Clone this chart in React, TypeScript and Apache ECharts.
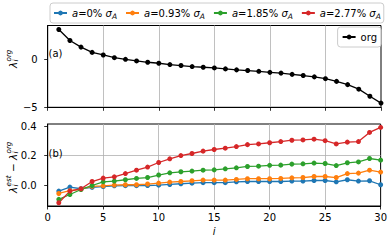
import React, { useEffect, useRef } from "react";
import * as echarts from "echarts";

const FONT = "DejaVu Sans";

// eigenvalue index i
const indices = [1, 2, 3, 4, 5, 6, 7, 8, 9, 10, 11, 12, 13, 14, 15, 16, 17, 18, 19, 20, 21, 22, 23, 24, 25, 26, 27, 28, 29, 30];

// (a) original eigenvalues
const orgValues = [3.1, 1.96, 1.27, 0.72, 0.45, 0.17, 0.0, -0.17, -0.31, -0.41, -0.55, -0.65, -0.76, -0.83, -0.9, -1.0, -1.1, -1.17, -1.25, -1.36, -1.44, -1.57, -1.69, -1.83, -2.02, -2.3, -2.64, -3.11, -3.85, -4.56];

// (b) deviations lambda_est - lambda_org
const dev0 = [-0.041, -0.014, -0.025, -0.016, -0.011, -0.005, -0.004, -0.004, -0.003, -0.001, 0.004, 0.009, 0.013, 0.016, 0.016, 0.016, 0.022, 0.024, 0.024, 0.024, 0.024, 0.027, 0.027, 0.031, 0.031, 0.022, 0.036, 0.027, 0.029, 0.002];
const dev093 = [-0.057, -0.038, -0.028, -0.009, -0.005, 0.0, 0.002, 0.002, 0.007, 0.013, 0.02, 0.024, 0.029, 0.034, 0.034, 0.034, 0.038, 0.043, 0.043, 0.043, 0.045, 0.049, 0.051, 0.058, 0.058, 0.051, 0.078, 0.081, 0.101, 0.088];
const dev185 = [-0.097, -0.064, -0.03, -0.003, 0.022, 0.027, 0.036, 0.045, 0.051, 0.068, 0.083, 0.09, 0.095, 0.101, 0.103, 0.11, 0.117, 0.126, 0.128, 0.134, 0.135, 0.142, 0.144, 0.149, 0.146, 0.132, 0.151, 0.157, 0.18, 0.169];
const dev277 = [-0.12, -0.041, -0.025, 0.024, 0.047, 0.056, 0.078, 0.101, 0.122, 0.153, 0.178, 0.2, 0.214, 0.23, 0.241, 0.25, 0.261, 0.274, 0.279, 0.287, 0.295, 0.304, 0.306, 0.311, 0.301, 0.279, 0.291, 0.295, 0.357, 0.391];

const devPercents = ["0%", "0.93%", "1.85%", "2.77%"];
const devSeries = [dev0, dev093, dev185, dev277];
const devColors = ["#1f77b4", "#ff7f0e", "#2ca02c", "#d62728"];
const devNames = devPercents.map((p) => `a=${p} σA`);

const xTicks = [0, 5, 10, 15, 20, 25, 30];
const topYTicks = [-5, 0];
const bottomYTicks = [0, 0.2, 0.4];

const GRID_COLOR = "#b0b0b0";

function mathText(x: number, y: number, parts: { t: string; dx: number; dy: number; s: number }[]) {
  return {
    type: "group",
    x,
    y,
    rotation: Math.PI / 2,
    z: 100,
    children: parts.map((p) => ({
      type: "text",
      x: p.dx,
      y: p.dy,
      style: {
        text: p.t,
        fontSize: p.s,
        fontFamily: FONT,
        fontStyle: p.t === "−" ? "normal" : "italic",
        fill: "#000",
        align: "left",
        textAlign: "left",
        verticalAlign: "middle",
        textVerticalAlign: "middle",
      },
    })),
  };
}

export default function App() {
  const ref = useRef<HTMLDivElement>(null);
  useEffect(() => {
    const chart = echarts.init(ref.current!, null, { renderer: "svg" });
    const tickStyle = { show: true, inside: false, length: 3.5, lineStyle: { color: "#000", width: 0.8 } };
    const labelStyle = { color: "#000", fontFamily: FONT, fontSize: 10 };
    const splitStyle = { show: true, showMinLine: false, showMaxLine: false, lineStyle: { color: GRID_COLOR, width: 0.8 } };
    const fmtMinus = (v: number) => (v < 0 ? "−" + Math.abs(v) : String(v));

    const option: any = {
      animation: false,
      backgroundColor: "#fff",
      textStyle: { fontFamily: FONT },
      grid: [
        { left: 47.7, top: 25.5, width: 333.3, height: 81.8, show: true, borderColor: "#000", borderWidth: 1, backgroundColor: "transparent" },
        { left: 47.7, top: 124, width: 333.3, height: 82, show: true, borderColor: "#000", borderWidth: 1, backgroundColor: "transparent" },
      ],
      xAxis: [
        {
          type: "value", gridIndex: 0, min: 0, max: 30, interval: 5,
          axisLine: { show: true, onZero: false, lineStyle: { color: "#000", width: 1 } },
          axisTick: { ...tickStyle, customValues: xTicks },
          axisLabel: { show: false },
          splitLine: splitStyle,
        },
        {
          type: "value", gridIndex: 1, min: 0, max: 30, interval: 5,
          axisLine: { show: true, onZero: false, lineStyle: { color: "#000", width: 1 } },
          axisTick: { ...tickStyle, customValues: xTicks },
          axisLabel: { ...labelStyle, margin: 6, customValues: xTicks },
          splitLine: splitStyle,
          name: "i",
          nameLocation: "middle",
          nameGap: 20,
          nameTextStyle: { fontFamily: FONT, fontSize: 10, fontStyle: "italic", color: "#000" },
        },
      ],
      yAxis: [
        {
          type: "value", gridIndex: 0, min: -5, max: 3.52,
          axisLine: { show: true, onZero: false, lineStyle: { color: "#000", width: 1 } },
          axisTick: { ...tickStyle, customValues: topYTicks },
          axisLabel: { ...labelStyle, margin: 10, customValues: topYTicks, formatter: fmtMinus },
          splitLine: splitStyle,
        },
        {
          type: "value", gridIndex: 1, min: -0.142, max: 0.414,
          axisLine: { show: true, onZero: false, lineStyle: { color: "#000", width: 1 } },
          axisTick: { ...tickStyle, customValues: bottomYTicks },
          axisLabel: { ...labelStyle, margin: 11, customValues: bottomYTicks, formatter: (v: number) => v.toFixed(1) },
          splitLine: splitStyle,
        },
      ],
      legend: [
        {
          data: devNames,
          left: 50,
          top: 3,
          width: 380,
          itemWidth: 13,
          itemHeight: 6,
          itemGap: 8,
          padding: [3, 3, 3, 3],
          borderColor: "#cccccc",
          borderWidth: 1,
          borderRadius: 3,
          backgroundColor: "rgba(255,255,255,0.8)",
          formatter: (name: string) => {
            const k = devNames.indexOf(name);
            return `{it|a}=${devPercents[k]} {it|σ}{sub|A}`;
          },
          textStyle: {
            fontFamily: FONT, fontSize: 10, color: "#000", lineHeight: 14,
            rich: {
              it: { fontFamily: FONT, fontSize: 10, fontStyle: "italic", color: "#000", lineHeight: 14 },
              sub: { fontFamily: FONT, fontSize: 7.5, fontStyle: "italic", color: "#000", lineHeight: 8, verticalAlign: "bottom" },
            },
          },
        },
        {
          data: ["org"],
          right: 9,
          top: 27,
          itemWidth: 13,
          itemHeight: 6,
          padding: [3, 4, 3, 4],
          borderColor: "#cccccc",
          borderWidth: 1,
          borderRadius: 3,
          backgroundColor: "rgba(255,255,255,0.8)",
          textStyle: { fontFamily: FONT, fontSize: 10, color: "#000", lineHeight: 14 },
        },
      ],
      series: [
        {
          name: "org",
          type: "line",
          xAxisIndex: 0,
          yAxisIndex: 0,
          data: indices.map((x, k) => [x, orgValues[k]]),
          symbol: "circle",
          symbolSize: 5,
          showSymbol: true,
          lineStyle: { color: "#000", width: 1.3 },
          itemStyle: { color: "#000" },
          clip: false,
        },
        ...devSeries.map((vals, s) => ({
          name: devNames[s],
          type: "line",
          xAxisIndex: 1,
          yAxisIndex: 1,
          data: indices.map((x, k) => [x, vals[k]]),
          symbol: "circle",
          symbolSize: 5,
          showSymbol: true,
          lineStyle: { color: devColors[s], width: 1.3 },
          itemStyle: { color: devColors[s] },
          clip: false,
        })),
      ],
      graphic: [
        { type: "text", x: 48.5, y: 53, z: 100, style: { text: "(a)", fontSize: 10, fontFamily: FONT, fill: "#000", align: "left", textAlign: "left", verticalAlign: "middle", textVerticalAlign: "middle" } },
        { type: "text", x: 48.5, y: 153, z: 100, style: { text: "(b)", fontSize: 10, fontFamily: FONT, fill: "#000", align: "left", textAlign: "left", verticalAlign: "middle", textVerticalAlign: "middle" } },
        mathText(12.5, 68, [
          { t: "λ", dx: 0, dy: 0, s: 10.5 },
          { t: "org", dx: 6.5, dy: -4.5, s: 7.2 },
          { t: "i", dx: 6.5, dy: 3, s: 7.2 },
        ]),
        mathText(12.5, 193, [
          { t: "λ", dx: 0, dy: 0, s: 10.5 },
          { t: "est", dx: 6.5, dy: -4.5, s: 7.2 },
          { t: "i", dx: 6.5, dy: 3, s: 7.2 },
          { t: "−", dx: 21, dy: 0, s: 10.5 },
          { t: "λ", dx: 33, dy: 0, s: 10.5 },
          { t: "org", dx: 39.5, dy: -4.5, s: 7.2 },
          { t: "i", dx: 39.5, dy: 3, s: 7.2 },
        ]),
      ],
    };
    chart.setOption(option);
    return () => chart.dispose();
  }, []);
  return <div ref={ref} style={{ position: "absolute", left: 0, top: 0, width: 390, height: 240 }} />;
}
